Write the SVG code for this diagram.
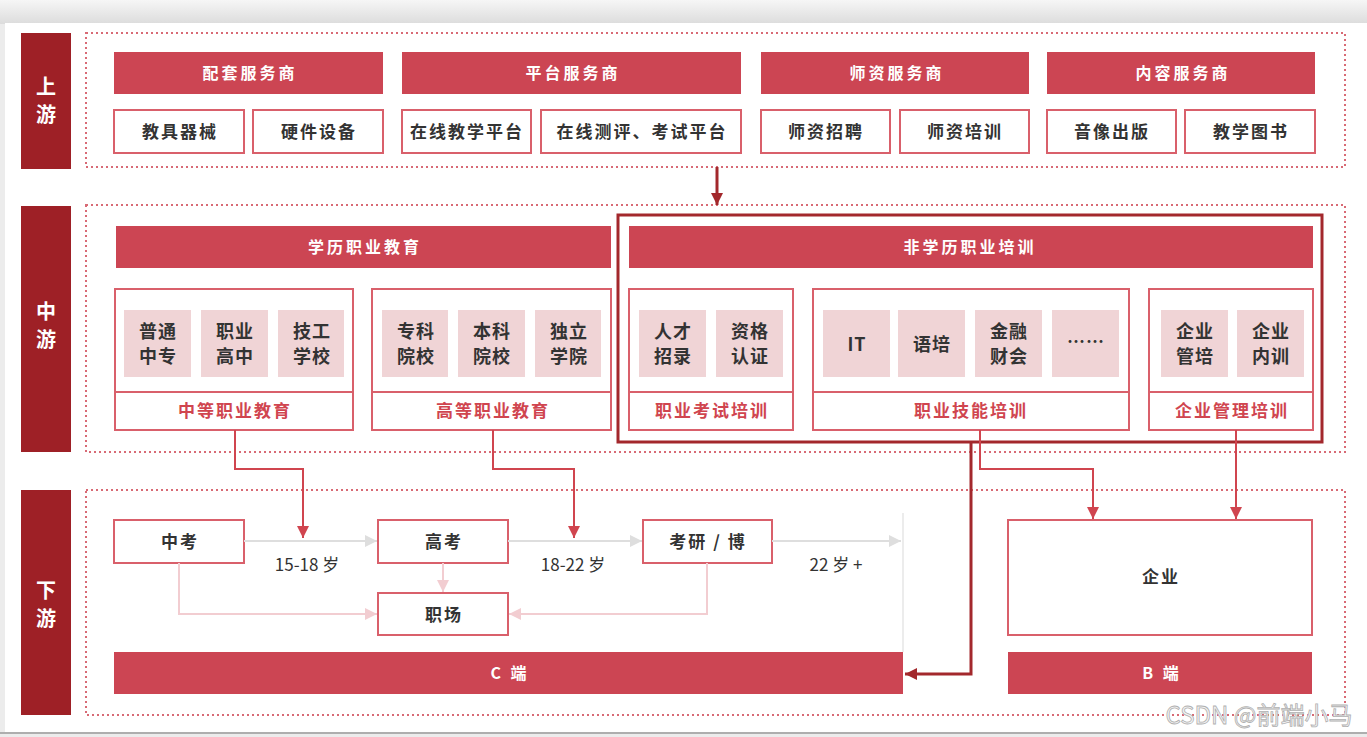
<svg xmlns="http://www.w3.org/2000/svg" width="1367" height="737" viewBox="0 0 1367 737">
<style>
text{font-family:"Noto Sans CJK SC","Noto Sans",sans-serif;text-anchor:middle;dominant-baseline:central}
.side{fill:#9e2026}
.sideT{fill:#fff;font-size:20px;font-weight:bold}
.zone{fill:none;stroke:#d86a75;stroke-width:2;stroke-dasharray:2 3}
.hdr{fill:#cc4553}
.hdrT{fill:#fff;font-size:16px;font-weight:bold;letter-spacing:3px}
.box{fill:#fff;stroke:#d9606b;stroke-width:2}
.boxT{fill:#333;font-size:17px;font-weight:bold;letter-spacing:2px}
.sq{fill:#f0d4d6}
.sqT{fill:#333;font-size:18px;font-weight:bold;letter-spacing:1px}
.lbl{fill:#d0454f;font-size:17px;font-weight:bold;letter-spacing:2px}
.age{fill:#333;font-size:17px}
.frame{fill:none;stroke:#a3282c;stroke-width:3}
.cR{fill:none;stroke:#d0454f;stroke-width:2}
.cD{fill:none;stroke:#a3282c;stroke-width:3}
.cG{fill:none;stroke:#dedede;stroke-width:2}
.cP{fill:none;stroke:#f2cdd1;stroke-width:2}
</style>
<defs>
<marker id="mR" viewBox="0 0 10 10" refX="10" refY="5" markerWidth="6" markerHeight="6" orient="auto" markerUnits="strokeWidth"><path d="M0,0L10,5L0,10z" fill="#d0454f"/></marker>
<marker id="mD" viewBox="0 0 10 10" refX="10" refY="5" markerWidth="4" markerHeight="4" orient="auto" markerUnits="strokeWidth"><path d="M0,0L10,5L0,10z" fill="#a3282c"/></marker>
<marker id="mG" viewBox="0 0 10 10" refX="10" refY="5" markerWidth="6" markerHeight="6" orient="auto" markerUnits="strokeWidth"><path d="M0,0L10,5L0,10z" fill="#dedede"/></marker>
<marker id="mP" viewBox="0 0 10 10" refX="10" refY="5" markerWidth="6" markerHeight="6" orient="auto" markerUnits="strokeWidth"><path d="M0,0L10,5L0,10z" fill="#f2cdd1"/></marker>
<linearGradient id="topg" x1="0" y1="0" x2="0" y2="1"><stop offset="0" stop-color="#f6f6f6"/><stop offset="1" stop-color="#dcdcdc"/></linearGradient>
</defs>

<rect x="0" y="0" width="1367" height="737" fill="#ececec"/>
<rect x="0" y="0" width="1367" height="24" fill="url(#topg)"/>
<rect x="5" y="23" width="1362" height="709" fill="#fff"/>
<line x1="0" y1="733" x2="1367" y2="733" stroke="#9a9a9a" stroke-width="1.5"/>

<!-- zones -->
<g id="zones">
<rect class="zone" x="86" y="33" width="1259" height="134"/>
<rect class="zone" x="86" y="205" width="1259" height="247"/>
<rect class="zone" x="86" y="490" width="1259" height="225"/>
</g>

<!-- side labels -->
<g id="side-upper"><rect class="side" x="21" y="33" width="50" height="136"/><text class="sideT" x="46" y="85">上</text><text class="sideT" x="46" y="113">游</text></g>
<g id="side-middle"><rect class="side" x="21" y="206" width="50" height="246"/><text class="sideT" x="46" y="310">中</text><text class="sideT" x="46" y="338">游</text></g>
<g id="side-lower"><rect class="side" x="21" y="490" width="50" height="225"/><text class="sideT" x="46" y="589">下</text><text class="sideT" x="46" y="617">游</text></g>

<!-- upstream -->
<g id="peitao"><rect class="hdr" x="114" y="52" width="269" height="42"/><text class="hdrT" x="250" y="72">配套服务商</text></g>
<g id="jiaoju"><rect class="box" x="114" y="110" width="130" height="43"/><text class="boxT" x="180" y="130">教具器械</text></g>
<g id="yingjian"><rect class="box" x="253" y="110" width="130" height="43"/><text class="boxT" x="319" y="130">硬件设备</text></g>

<g id="pingtai"><rect class="hdr" x="402" y="52" width="339" height="42"/><text class="hdrT" x="573" y="72">平台服务商</text></g>
<g id="zaixianjiaoxue"><rect class="box" x="402" y="110" width="129" height="43"/><text class="boxT" x="467" y="130">在线教学平台</text></g>
<g id="zaixiances"><rect class="box" x="541" y="110" width="200" height="43"/><text class="boxT" x="642" y="130">在线测评、考试平台</text></g>

<g id="shizi"><rect class="hdr" x="761" y="52" width="268" height="42"/><text class="hdrT" x="897" y="72">师资服务商</text></g>
<g id="shizizhaopin"><rect class="box" x="761" y="110" width="129" height="43"/><text class="boxT" x="826" y="130">师资招聘</text></g>
<g id="shizipeixun"><rect class="box" x="900" y="110" width="129" height="43"/><text class="boxT" x="965" y="130">师资培训</text></g>

<g id="neirong"><rect class="hdr" x="1047" y="52" width="268" height="42"/><text class="hdrT" x="1183" y="72">内容服务商</text></g>
<g id="yinxiang"><rect class="box" x="1047" y="110" width="129" height="43"/><text class="boxT" x="1112" y="130">音像出版</text></g>
<g id="tushu"><rect class="box" x="1185" y="110" width="130" height="43"/><text class="boxT" x="1251" y="130">教学图书</text></g>

<!-- midstream -->
<g id="xueli"><rect class="hdr" x="116" y="226" width="495" height="42"/><text class="hdrT" x="365" y="246">学历职业教育</text></g>

<g id="zhongdeng">
<rect class="box" x="115" y="289" width="238" height="141"/>
<line x1="115" y1="392" x2="353" y2="392" stroke="#d9606b" stroke-width="2"/>
<rect class="sq" x="124" y="310" width="67" height="67"/><text class="sqT" x="158" y="330">普通</text><text class="sqT" x="158" y="355">中专</text>
<rect class="sq" x="201" y="310" width="67" height="67"/><text class="sqT" x="235" y="330">职业</text><text class="sqT" x="235" y="355">高中</text>
<rect class="sq" x="278" y="310" width="66" height="67"/><text class="sqT" x="312" y="330">技工</text><text class="sqT" x="312" y="355">学校</text>
<text class="lbl" x="235" y="409">中等职业教育</text>
</g>

<g id="gaodeng">
<rect class="box" x="372" y="289" width="239" height="141"/>
<line x1="372" y1="392" x2="611" y2="392" stroke="#d9606b" stroke-width="2"/>
<rect class="sq" x="382" y="310" width="66" height="67"/><text class="sqT" x="416" y="330">专科</text><text class="sqT" x="416" y="355">院校</text>
<rect class="sq" x="458" y="310" width="67" height="67"/><text class="sqT" x="492" y="330">本科</text><text class="sqT" x="492" y="355">院校</text>
<rect class="sq" x="535" y="310" width="66" height="67"/><text class="sqT" x="569" y="330">独立</text><text class="sqT" x="569" y="355">学院</text>
<text class="lbl" x="493" y="409">高等职业教育</text>
</g>

<g id="feixueli">
<rect class="frame" x="618" y="215" width="704" height="227"/>
<rect class="hdr" x="629" y="226" width="684" height="42"/><text class="hdrT" x="970" y="246">非学历职业培训</text>
</g>

<g id="kaoshi">
<rect class="box" x="629" y="289" width="164" height="141"/>
<line x1="629" y1="392" x2="793" y2="392" stroke="#d9606b" stroke-width="2"/>
<rect class="sq" x="639" y="310" width="67" height="67"/><text class="sqT" x="673" y="330">人才</text><text class="sqT" x="673" y="355">招录</text>
<rect class="sq" x="716" y="310" width="67" height="67"/><text class="sqT" x="750" y="330">资格</text><text class="sqT" x="750" y="355">认证</text>
<text class="lbl" x="712" y="409">职业考试培训</text>
</g>

<g id="jineng">
<rect class="box" x="813" y="289" width="316" height="141"/>
<line x1="813" y1="392" x2="1129" y2="392" stroke="#d9606b" stroke-width="2"/>
<rect class="sq" x="823" y="310" width="67" height="67"/><text class="sqT" x="857" y="343">IT</text>
<rect class="sq" x="898" y="310" width="67" height="67"/><text class="sqT" x="932" y="343">语培</text>
<rect class="sq" x="975" y="310" width="67" height="67"/><text class="sqT" x="1009" y="330">金融</text><text class="sqT" x="1009" y="355">财会</text>
<rect class="sq" x="1052" y="310" width="67" height="67"/><text class="sqT" x="1086" y="340">……</text>
<text class="lbl" x="971" y="409">职业技能培训</text>
</g>

<g id="qiyeguanli">
<rect class="box" x="1149" y="289" width="164" height="141"/>
<line x1="1149" y1="392" x2="1313" y2="392" stroke="#d9606b" stroke-width="2"/>
<rect class="sq" x="1161" y="310" width="67" height="67"/><text class="sqT" x="1195" y="330">企业</text><text class="sqT" x="1195" y="355">管培</text>
<rect class="sq" x="1237" y="310" width="67" height="67"/><text class="sqT" x="1271" y="330">企业</text><text class="sqT" x="1271" y="355">内训</text>
<text class="lbl" x="1232" y="409">企业管理培训</text>
</g>

<!-- downstream -->
<g id="zhongkao"><rect class="box" x="114" y="520" width="130" height="43"/><text class="boxT" x="180" y="540">中考</text></g>
<g id="gaokao"><rect class="box" x="378" y="520" width="130" height="43"/><text class="boxT" x="444" y="540">高考</text></g>
<g id="kaoyan"><rect class="box" x="643" y="520" width="129" height="43"/><text class="boxT" x="708" y="540">考研 / 博</text></g>
<g id="zhichang"><rect class="box" x="378" y="593" width="130" height="42"/><text class="boxT" x="444" y="613">职场</text></g>
<g id="qiye"><rect class="box" x="1008" y="520" width="304" height="115"/><text class="boxT" x="1161" y="575">企业</text></g>
<g id="cduan"><rect class="hdr" x="114" y="652" width="789" height="42"/><text class="hdrT" x="510" y="672">C 端</text></g>
<g id="bduan"><rect class="hdr" x="1008" y="652" width="304" height="42"/><text class="hdrT" x="1162" y="672">B 端</text></g>

<g id="age-labels">
<text class="age" x="307" y="563">15-18 岁</text>
<text class="age" x="573" y="563">18-22 岁</text>
<text class="age" x="836" y="563">22 岁 +</text>
</g>

<!-- connectors -->
<g id="connectors">
<line class="cD" x1="717" y1="167" x2="717" y2="205" marker-end="url(#mD)"/>
<polyline class="cR" points="235,430 235,469 303,469 303,538" marker-end="url(#mR)"/>
<polyline class="cR" points="493,430 493,469 574,469 574,538" marker-end="url(#mR)"/>
<polyline class="cR" points="980,430 980,469 1093,469 1093,519" marker-end="url(#mR)"/>
<polyline class="cR" points="1236,430 1236,519" marker-end="url(#mR)"/>
<polyline class="cD" points="971,442 971,674 905,674" marker-end="url(#mD)"/>
<line class="cG" x1="244" y1="541" x2="377" y2="541" marker-end="url(#mG)"/>
<line class="cG" x1="508" y1="541" x2="642" y2="541" marker-end="url(#mG)"/>
<line class="cG" x1="772" y1="541" x2="901" y2="541" marker-end="url(#mG)"/>
<line x1="903" y1="513" x2="903" y2="652" stroke="#e6e6e6" stroke-width="1.5"/>
<polyline class="cP" points="179,563 179,614 377,614" marker-end="url(#mP)"/>
<line class="cP" x1="443" y1="563" x2="443" y2="592" marker-end="url(#mP)"/>
<polyline class="cP" points="707,563 707,614 509,614" marker-end="url(#mP)"/>
</g>

<text x="1259" y="713" style="font-size:24px;fill:#f4f4f4;stroke:#b0b0b0;stroke-width:0.8">CSDN @前端小马</text>
</svg>
